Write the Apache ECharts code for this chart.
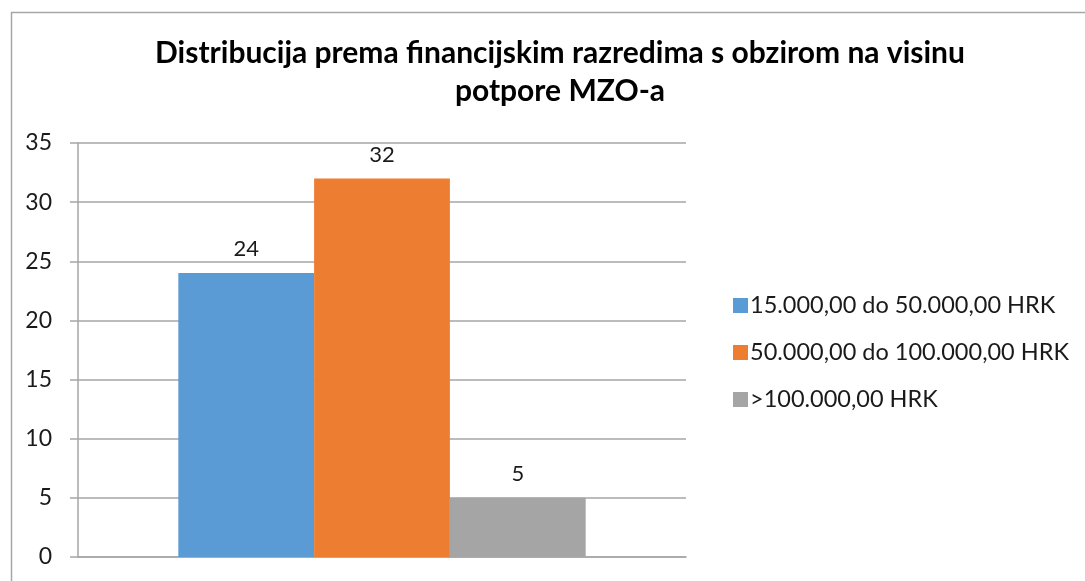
<!DOCTYPE html>
<html>
<head>
<meta charset="utf-8">
<script src="https://cdn.jsdelivr.net/npm/echarts@6/dist/echarts.min.js"></script>
<style>
  html, body { margin: 0; padding: 0; background: #fff; }
  #chart { width: 1085px; height: 581px; }
</style>
</head>
<body>
<div id="chart"></div>
<script>
var titleText = 'Distribucija prema financijskim razredima s obzirom na visinu\npotpore MZO-a';
var categories = [''];
var seriesNames = ['15.000,00 do 50.000,00 HRK', '50.000,00 do 100.000,00 HRK', '>100.000,00 HRK'];
var seriesValues = [[24], [32], [5]];
var seriesColors = ['#5b9bd5', '#ed7d31', '#a5a5a5'];
var yTicks = { min: 0, max: 35, interval: 5 };

var FONT = 'Lato, "Open Sans", sans-serif';
var chart = echarts.init(document.getElementById('chart'), null, { renderer: 'canvas' });

var series = seriesNames.map(function (name, i) {
  return {
    name: name,
    type: 'bar',
    data: seriesValues[i],
    barGap: 0,
    barCategoryGap: '33%',
    itemStyle: { color: seriesColors[i] },
    label: {
      show: true,
      position: 'top',
      distance: 13,
      color: '#1a1a1a',
      fontFamily: FONT,
      fontSize: 22
    }
  };
});

chart.setOption({
  animation: false,
  textStyle: { fontFamily: FONT },
  graphic: [{
    type: 'rect',
    left: 9, top: 10,
    shape: { width: 1200, height: 700 },
    style: { fill: 'none', stroke: '#a6a6a6', lineWidth: 1.5 },
    silent: true
  }],
  title: {
    text: titleText,
    left: 555, top: 29,
    textAlign: 'center',
    textStyle: { fontFamily: FONT, fontSize: 30, fontWeight: 'bold', color: '#000', lineHeight: 38 }
  },
  legend: {
    orient: 'vertical',
    left: 728, top: 288,
    itemWidth: 15, itemHeight: 15, itemGap: 22,
    icon: 'rect',
    textStyle: { fontFamily: FONT, fontSize: 23.5, lineHeight: 25, color: '#1a1a1a', padding: [0, 0, 0, -3] },
    data: seriesNames
  },
  grid: { left: 78, right: 399, top: 143, bottom: 24 },
  xAxis: {
    type: 'category',
    data: categories,
    axisLine: { lineStyle: { color: '#a6a6a6', width: 1.5 } },
    axisTick: { show: false },
    axisLabel: { show: false }
  },
  yAxis: {
    type: 'value',
    min: yTicks.min, max: yTicks.max, interval: yTicks.interval,
    axisLine: { show: true, lineStyle: { color: '#a6a6a6', width: 1.5 } },
    axisTick: { show: true, inside: false, length: 8, lineStyle: { color: '#a6a6a6', width: 1.5 } },
    axisLabel: { margin: 26, color: '#1a1a1a', fontFamily: FONT, fontSize: 23 },
    splitLine: { lineStyle: { color: '#a6a6a6', width: 1.5 } }
  },
  series: series
});
</script>
</body>
</html>
